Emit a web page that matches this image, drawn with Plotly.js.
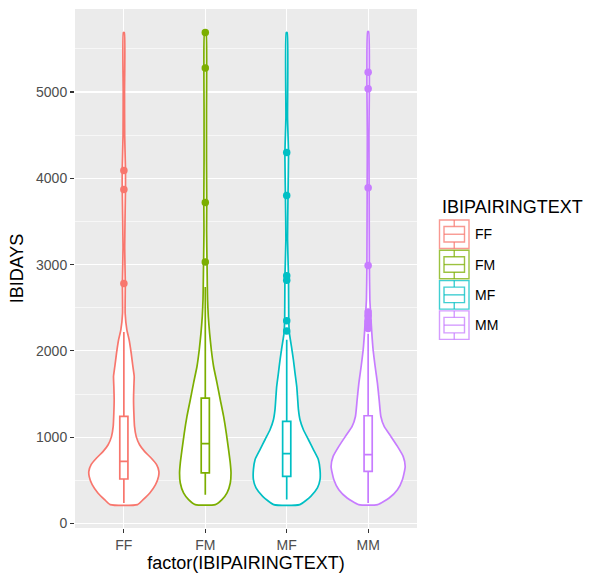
<!DOCTYPE html>
<html>
<head>
<meta charset="utf-8">
<script src="https://cdn.plot.ly/plotly-3.0.1.min.js"></script>
<style>html,body{margin:0;padding:0;background:#fff;}#chart{width:593px;height:575px;}</style>
</head>
<body>
<div id="chart"></div>
<script>
// ---- data ----
const categories = ['FF', 'FM', 'MF', 'MM'];
const legendTitle = 'IBIPAIRINGTEXT';
const xTitle = 'factor(IBIPAIRINGTEXT)';
const yTitle = 'IBIDAYS';
const yTickValues = [0, 1000, 2000, 3000, 4000, 5000];

// violin outlines: IBIDAYS level and half-width (density, in category units)
const ffDays  = [218, 276, 353, 449, 546, 604, 681, 758, 835, 912, 1009, 1124, 1280, 1434, 1588, 1703, 1819, 1974, 2128, 2244, 2437, 2780, 3200, 3880, 4100, 4500, 5000, 5690];
const ffWidth = [0.168, 0.237, 0.319, 0.389, 0.426, 0.430, 0.402, 0.335, 0.254, 0.193, 0.151, 0.131, 0.123, 0.119, 0.123, 0.127, 0.111, 0.090, 0.065, 0.037, 0.016, 0.018, 0.010, 0.020, 0.020, 0.010, 0.008, 0.006];
const fmDays  = [218, 276, 353, 469, 585, 700, 855, 1048, 1240, 1434, 1627, 1819, 2013, 2206, 2398, 2592, 2750, 3030, 3400, 3720, 4200, 4800, 5300, 5700];
const fmWidth = [0.123, 0.205, 0.267, 0.307, 0.316, 0.307, 0.286, 0.258, 0.225, 0.184, 0.144, 0.102, 0.074, 0.053, 0.037, 0.028, 0.025, 0.021, 0.016, 0.018, 0.015, 0.015, 0.017, 0.008];
const mfDays  = [218, 314, 411, 507, 623, 739, 855, 970, 1086, 1202, 1318, 1434, 1588, 1743, 1897, 2051, 2206, 2360, 2850, 3300, 3800, 4300, 4700, 5690];
const mfWidth = [0.160, 0.295, 0.377, 0.409, 0.409, 0.389, 0.328, 0.267, 0.205, 0.163, 0.144, 0.135, 0.123, 0.102, 0.082, 0.058, 0.033, 0.025, 0.022, 0.010, 0.016, 0.022, 0.010, 0.006];
const mmDays  = [218, 295, 391, 507, 661, 777, 893, 1009, 1124, 1240, 1434, 1627, 1819, 2013, 2206, 2398, 2592, 3000, 3900, 4500, 5050, 5240, 5700];
const mmWidth = [0.117, 0.258, 0.360, 0.421, 0.455, 0.430, 0.360, 0.279, 0.197, 0.156, 0.135, 0.114, 0.086, 0.061, 0.045, 0.033, 0.021, 0.015, 0.012, 0.010, 0.015, 0.015, 0.006];

// boxplot statistics
const boxLower  = [237, 333, 276, 237];
const boxQ1     = [515, 585, 546, 603];
const boxMedian = [719, 924, 808, 797];
const boxQ3     = [1240, 1453, 1183, 1248];
const boxUpper  = [2220, 2740, 2130, 2200];

// outliers
const ffOutliers = [2780, 3870, 4090];
const fmOutliers = [3030, 3720, 5280, 5690];
const mfOutliers = [2230, 2350, 2820, 2870, 3800, 4300];
const mmOutliers = [2260, 2300, 2340, 2410, 2450, 2990, 3890, 5040, 5230];

// ---- styling ----
const colors = ['#F8766D', '#7CAE00', '#00BFC4', '#C77CFF'];
const violinDays = [ffDays, fmDays, mfDays, mmDays];
const violinWidth = [ffWidth, fmWidth, mfWidth, mmWidth];
const outliers = [ffOutliers, fmOutliers, mfOutliers, mmOutliers];
const FONT = 'Liberation Sans, Arial, sans-serif';
const LW = 1.7;

const traces = [];
categories.forEach((cat, i) => {
  const pos = i + 1;
  const d = violinDays[i], w = violinWidth[i];
  const xs = [], ys = [];
  for (let k = 0; k < d.length; k++) { xs.push(pos + w[k]); ys.push(d[k]); }
  for (let k = d.length - 1; k >= 0; k--) { xs.push(pos - w[k]); ys.push(d[k]); }
  xs.push(xs[0]); ys.push(ys[0]);
  traces.push({
    type: 'scatter', mode: 'lines', x: xs, y: ys, fill: 'toself', fillcolor: '#FFFFFF',
    line: {color: colors[i], width: LW, shape: 'spline', smoothing: 0.5},
    showlegend: false, hoverinfo: 'skip', xaxis: 'x', yaxis: 'y'
  });
});
// boxes and outliers on an overlaying subplot so they sit above the violins
categories.forEach((cat, i) => {
  traces.push({
    type: 'box', name: cat, x: [i + 1],
    q1: [boxQ1[i]], median: [boxMedian[i]], q3: [boxQ3[i]],
    lowerfence: [boxLower[i]], upperfence: [boxUpper[i]],
    width: 0.1, whiskerwidth: 0, boxpoints: false,
    fillcolor: '#FFFFFF', line: {color: colors[i], width: LW},
    showlegend: false, xaxis: 'x2', yaxis: 'y2'
  });
});
categories.forEach((cat, i) => {
  traces.push({
    type: 'scatter', mode: 'markers', x: outliers[i].map(() => i + 1), y: outliers[i],
    marker: {color: colors[i], size: 7.5}, showlegend: false, name: cat,
    xaxis: 'x2', yaxis: 'y2'
  });
});

// custom ggplot-like legend
const L = 75, T = 9, W = 342, H = 519;
const px = v => (v - L) / W;
const py = v => (T + H - v) / H;
const shapes = [];
const annotations = [{
  text: legendTitle, xref: 'paper', yref: 'paper', x: px(440), y: py(206.5),
  xanchor: 'left', yanchor: 'middle', showarrow: false,
  font: {family: FONT, size: 18, color: '#000'}
}];
categories.forEach((cat, i) => {
  const x0 = 439.5, x1 = 469, top = 220 + i * 30.3, bot = top + 28.5;
  const c = colors[i];
  const ln = {color: c, width: 1.4};
  shapes.push({type: 'rect', xref: 'paper', yref: 'paper', x0: px(x0), x1: px(x1), y0: py(bot), y1: py(top), fillcolor: '#FFFFFF', line: ln, opacity: 0.75});
  const bx0 = x0 + 4.5, bx1 = x1 - 4.5, bt = top + 6.5, bb = bot - 6.5, cx = (x0 + x1) / 2, my = (top + bot) / 2;
  shapes.push({type: 'rect', xref: 'paper', yref: 'paper', x0: px(bx0), x1: px(bx1), y0: py(bb), y1: py(bt), line: ln, opacity: 0.75});
  shapes.push({type: 'line', xref: 'paper', yref: 'paper', x0: px(bx0), x1: px(bx1), y0: py(my), y1: py(my), line: ln, opacity: 0.75});
  shapes.push({type: 'line', xref: 'paper', yref: 'paper', x0: px(cx), x1: px(cx), y0: py(top), y1: py(bt), line: ln, opacity: 0.75});
  shapes.push({type: 'line', xref: 'paper', yref: 'paper', x0: px(cx), x1: px(cx), y0: py(bb), y1: py(bot), line: ln, opacity: 0.75});
  annotations.push({
    text: cat, xref: 'paper', yref: 'paper', x: px(473), y: py(my),
    xanchor: 'left', yanchor: 'middle', showarrow: false,
    font: {family: FONT, size: 14, color: '#000'}
  });
});

const xRange = [0.4, 4.6];
const yRange = [-53, 5963];
const layout = {
  width: 593, height: 575,
  margin: {l: L, r: 593 - L - W, t: T, b: 575 - T - H},
  paper_bgcolor: '#FFFFFF', plot_bgcolor: '#EBEBEB',
  font: {family: FONT, color: '#4D4D4D'},
  showlegend: false,
  xaxis: {
    range: xRange, tickmode: 'array', tickvals: categories.map((c, i) => i + 1), ticktext: categories,
    showgrid: true, gridcolor: '#FFFFFF', gridwidth: 1.2, zeroline: false, showline: false,
    ticks: 'outside', ticklen: 4, tickwidth: 1.2, tickcolor: '#333333',
    tickfont: {size: 14, color: '#4D4D4D'},
    title: {text: xTitle, font: {size: 18, color: '#000'}, standoff: 3},
    automargin: false, fixedrange: true
  },
  yaxis: {
    range: yRange, tickmode: 'array', tickvals: yTickValues, ticktext: yTickValues.map(String),
    showgrid: true, gridcolor: '#FFFFFF', gridwidth: 1.2, zeroline: false, showline: false,
    minor: {dtick: 500, tick0: 0, showgrid: true, gridcolor: '#FFFFFF', gridwidth: 0.6, ticks: ''},
    ticks: 'outside', ticklen: 4, tickwidth: 1.2, tickcolor: '#333333',
    tickfont: {size: 14, color: '#4D4D4D'},
    title: {text: yTitle, font: {size: 18, color: '#000'}, standoff: 7},
    automargin: false, fixedrange: true
  },
  xaxis2: {overlaying: 'x', range: xRange, visible: false, fixedrange: true},
  yaxis2: {overlaying: 'y', range: yRange, visible: false, fixedrange: true},
  shapes: shapes,
  annotations: annotations
};

Plotly.newPlot('chart', traces, layout, {displayModeBar: false, staticPlot: true});
</script>
</body>
</html>
